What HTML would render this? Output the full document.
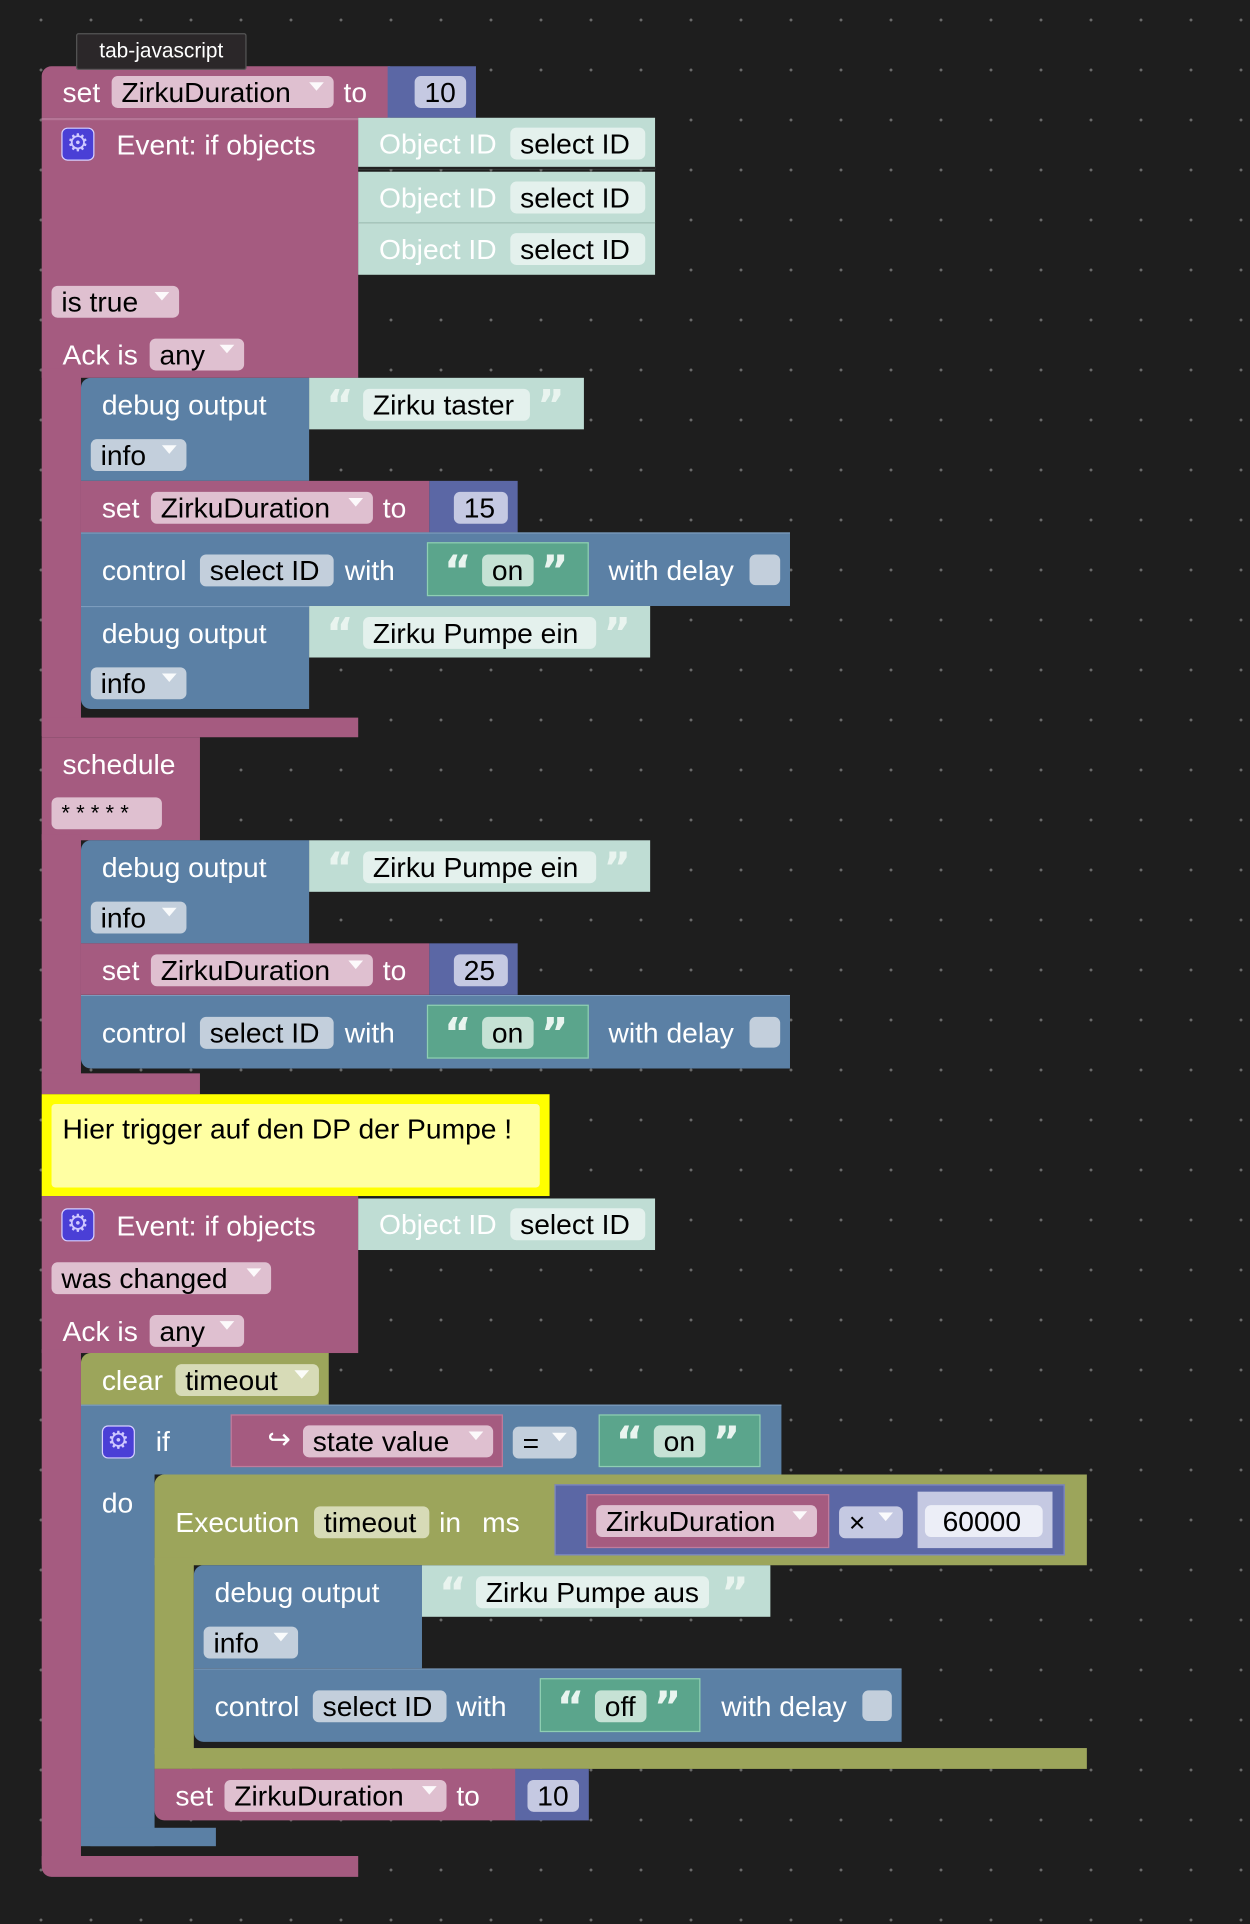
<!DOCTYPE html>
<html><head><meta charset="utf-8"><style>
html,body{margin:0;padding:0;}
body{width:1250px;height:1924px;overflow:hidden;background-color:#1e1e1e;
background-image:radial-gradient(circle,#6a6a6a 1.3px,transparent 1.6px);background-size:50px 50px;background-position:16px -5px;}
#c{position:absolute;left:0;top:0;width:1019px;height:1568px;transform:scale(1.2267);transform-origin:0 0;font-family:"Liberation Sans",sans-serif;font-size:23px;}
#c div{position:absolute;box-sizing:border-box;}
.pk{background:#a55b80;}
.bl{background:#5b80a5;}
.tl{background:#bfddd4;}
.gr{background:#5ba58c;border:1px solid #8fcfb3;}
.nb{background:#5b67a5;}
.ol{background:#9ca55b;}
.t{color:#fff;height:26px;line-height:26px;white-space:nowrap;}
.f{height:26px;line-height:26px;border-radius:5px;padding-left:8px;color:#000;white-space:nowrap;}
.fp{background:#dfc0d0;}
.fb{background:#c3cfdc;}
.ft{background:#e4f1ed;}
.fn{background:#c5c9e2;}
.fg{background:#c6e2d5;}
.fo{background:#d7dbb7;}
.dd:after{content:"";position:absolute;right:8px;top:5px;border-left:6px solid transparent;border-right:6px solid transparent;border-top:7px solid #fff;opacity:.9}
.gear{width:27px;height:27px;border-radius:5px;background:#4a3fd6;border:1px solid #d6d0ff;color:#cfc8ff;font-size:20px;line-height:24px;text-align:center;}
.q{color:#e9f4ef;font-weight:bold;font-size:34px;line-height:34px;font-family:"DejaVu Sans",sans-serif;margin-top:2px;}
</style></head><body><div id="c">

<div style="left:62px;top:27px;width:139px;height:30px;background:#2b2729;border:1px solid #555;border-radius:2px;color:#fff;font-size:17px;line-height:28px;text-align:center;z-index:5">tab-javascript</div>

<div class="pk" style="left:34px;top:54px;width:284px;height:42px;border-radius:8px 0 0 0"></div>
<div class="t" style="left:51px;top:62px">set</div>
<div class="f fp dd" style="left:91px;top:62px;width:181px">ZirkuDuration</div>
<div class="t" style="left:280px;top:62px">to</div>
<div class="nb" style="left:316px;top:54px;width:72px;height:42px"></div>
<div class="f fn" style="left:338px;top:62px;width:42px">10</div>

<div class="pk" style="left:34px;top:96px;width:258px;height:212px;border-top:2px solid #b57596"></div>
<div class="pk" style="left:34px;top:300px;width:32px;height:300px"></div>
<div class="pk" style="left:34px;top:585px;width:258px;height:16px"></div>
<div class="gear" style="left:50px;top:104px">⚙</div>
<div class="t" style="left:95px;top:105px">Event: if objects</div>
<div class="tl" style="left:292px;top:96px;width:242px;height:42px;border-bottom:2px solid #222"></div>
<div class="tl" style="left:292px;top:140px;width:242px;height:42px;border-bottom:1px solid #a6c6bb"></div>
<div class="tl" style="left:292px;top:182px;width:242px;height:42px"></div>
<div class="t" style="left:309px;top:104px">Object ID</div>
<div class="f ft" style="left:416px;top:104px;width:110px">select ID</div>
<div class="t" style="left:309px;top:148px">Object ID</div>
<div class="f ft" style="left:416px;top:148px;width:110px">select ID</div>
<div class="t" style="left:309px;top:190px">Object ID</div>
<div class="f ft" style="left:416px;top:190px;width:110px">select ID</div>
<div class="f fp dd" style="left:42px;top:233px;width:104px">is true</div>
<div class="t" style="left:51px;top:276px">Ack is</div>
<div class="f fp dd" style="left:122px;top:276px;width:77px">any</div>

<div class="bl" style="left:66px;top:308px;width:186px;height:84px;border-radius:8px 0 0 0"></div>
<div class="t" style="left:83px;top:317px">debug output</div>
<div class="tl" style="left:252px;top:308px;width:224px;height:42px"></div>
<div class="q" style="left:266px;top:312px">“</div>
<div class="f ft" style="left:296px;top:317px;width:136px">Zirku taster</div>
<div class="q" style="left:438px;top:312px">”</div>
<div class="f fb dd" style="left:74px;top:358px;width:78px">info</div>
<div class="pk" style="left:66px;top:392px;width:284px;height:42px"></div>
<div class="t" style="left:83px;top:401px">set</div>
<div class="f fp dd" style="left:123px;top:401px;width:181px">ZirkuDuration</div>
<div class="t" style="left:312px;top:401px">to</div>
<div class="nb" style="left:350px;top:392px;width:72px;height:42px"></div>
<div class="f fn" style="left:370px;top:401px;width:44px">15</div>
<div class="bl" style="left:66px;top:434px;width:578px;height:60px;border-top:1px solid #7c9cbd"></div>
<div class="t" style="left:83px;top:452px">control</div>
<div class="f fb" style="left:163px;top:452px;width:109px">select ID</div>
<div class="t" style="left:281px;top:452px">with</div>
<div class="gr" style="left:348px;top:442px;width:132px;height:44px"></div>
<div class="q" style="left:362px;top:447px">“</div>
<div class="f fg" style="left:393px;top:452px;width:42px">on</div>
<div class="q" style="left:441px;top:447px">”</div>
<div class="t" style="left:496px;top:452px">with delay</div>
<div style="left:611px;top:452px;width:25px;height:25px;border-radius:5px;background:#c3cfdc"></div>
<div class="bl" style="left:66px;top:494px;width:186px;height:84px;border-radius:0 0 0 8px;border-top:1px solid #7c9cbd"></div>
<div class="t" style="left:83px;top:503px">debug output</div>
<div class="tl" style="left:252px;top:494px;width:278px;height:42px"></div>
<div class="q" style="left:266px;top:498px">“</div>
<div class="f ft" style="left:296px;top:503px;width:190px">Zirku Pumpe ein</div>
<div class="q" style="left:492px;top:498px">”</div>
<div class="f fb dd" style="left:74px;top:544px;width:78px">info</div>

<div class="pk" style="left:34px;top:601px;width:129px;height:84px"></div>
<div class="pk" style="left:34px;top:680px;width:32px;height:200px"></div>
<div class="pk" style="left:34px;top:875px;width:129px;height:17px"></div>
<div class="t" style="left:51px;top:610px">schedule</div>
<div class="f fp" style="left:42px;top:650px;width:90px;font-size:18px">* * * * *</div>
<div class="bl" style="left:66px;top:685px;width:186px;height:84px;border-radius:8px 0 0 0"></div>
<div class="t" style="left:83px;top:694px">debug output</div>
<div class="tl" style="left:252px;top:685px;width:278px;height:42px"></div>
<div class="q" style="left:266px;top:689px">“</div>
<div class="f ft" style="left:296px;top:694px;width:190px">Zirku Pumpe ein</div>
<div class="q" style="left:492px;top:689px">”</div>
<div class="f fb dd" style="left:74px;top:735px;width:78px">info</div>
<div class="pk" style="left:66px;top:769px;width:284px;height:42px"></div>
<div class="t" style="left:83px;top:778px">set</div>
<div class="f fp dd" style="left:123px;top:778px;width:181px">ZirkuDuration</div>
<div class="t" style="left:312px;top:778px">to</div>
<div class="nb" style="left:350px;top:769px;width:72px;height:42px"></div>
<div class="f fn" style="left:370px;top:778px;width:44px">25</div>
<div class="bl" style="left:66px;top:811px;width:578px;height:60px;border-radius:0 0 0 8px;border-top:1px solid #7c9cbd"></div>
<div class="t" style="left:83px;top:829px">control</div>
<div class="f fb" style="left:163px;top:829px;width:109px">select ID</div>
<div class="t" style="left:281px;top:829px">with</div>
<div class="gr" style="left:348px;top:819px;width:132px;height:44px"></div>
<div class="q" style="left:362px;top:824px">“</div>
<div class="f fg" style="left:393px;top:829px;width:42px">on</div>
<div class="q" style="left:441px;top:824px">”</div>
<div class="t" style="left:496px;top:829px">with delay</div>
<div style="left:611px;top:829px;width:25px;height:25px;border-radius:5px;background:#c3cfdc"></div>

<div style="left:34px;top:892px;width:414px;height:83px;background:#ffff00"></div>
<div style="left:42px;top:900px;width:398px;height:68px;background:#ffffa3;border-radius:3px"></div>
<div style="left:51px;top:907px;color:#000;height:26px;line-height:26px;white-space:nowrap">Hier trigger auf den DP der Pumpe !</div>

<div class="pk" style="left:34px;top:975px;width:258px;height:128px"></div>
<div class="pk" style="left:34px;top:1100px;width:32px;height:420px"></div>
<div class="pk" style="left:34px;top:1513px;width:258px;height:17px;border-radius:0 0 0 8px"></div>
<div class="gear" style="left:50px;top:985px">⚙</div>
<div class="t" style="left:95px;top:986px">Event: if objects</div>
<div class="tl" style="left:292px;top:977px;width:242px;height:42px"></div>
<div class="t" style="left:309px;top:985px">Object ID</div>
<div class="f ft" style="left:416px;top:985px;width:110px">select ID</div>
<div class="f fp dd" style="left:42px;top:1029px;width:179px">was changed</div>
<div class="t" style="left:51px;top:1072px">Ack is</div>
<div class="f fp dd" style="left:122px;top:1072px;width:77px">any</div>

<div class="ol" style="left:66px;top:1103px;width:202px;height:42px;border-radius:8px 0 0 0"></div>
<div class="t" style="left:83px;top:1112px">clear</div>
<div class="f fo dd" style="left:143px;top:1112px;width:117px">timeout</div>

<div class="bl" style="left:66px;top:1145px;width:571px;height:57px;border-top:1px solid #7c9cbd"></div>
<div class="bl" style="left:66px;top:1200px;width:60px;height:305px;border-radius:0 0 0 8px"></div>
<div class="bl" style="left:66px;top:1490px;width:110px;height:15px"></div>
<div class="gear" style="left:83px;top:1162px">⚙</div>
<div class="t" style="left:127px;top:1162px">if</div>
<div class="t" style="left:83px;top:1212px">do</div>
<div class="pk" style="left:188px;top:1153px;width:222px;height:43px;border:1px solid #c07c9c"></div>
<div class="t" style="left:218px;top:1160px">↪</div>
<div class="f fp dd" style="left:247px;top:1162px;width:155px">state value</div>
<div class="f fb dd" style="left:418px;top:1163px;width:52px">=</div>
<div class="gr" style="left:488px;top:1153px;width:132px;height:43px"></div>
<div class="q" style="left:502px;top:1157px">“</div>
<div class="f fg" style="left:533px;top:1162px;width:42px">on</div>
<div class="q" style="left:581px;top:1157px">”</div>

<div class="ol" style="left:126px;top:1202px;width:760px;height:74px;border-radius:8px 0 0 0"></div>
<div class="ol" style="left:126px;top:1270px;width:32px;height:160px"></div>
<div class="ol" style="left:126px;top:1425px;width:760px;height:17px"></div>
<div class="t" style="left:143px;top:1228px">Execution</div>
<div class="f fo" style="left:256px;top:1228px;width:94px">timeout</div>
<div class="t" style="left:358px;top:1228px">in</div>
<div class="t" style="left:393px;top:1228px">ms</div>
<div class="nb" style="left:452px;top:1210px;width:416px;height:58px;border:1px solid #7f8ac2"></div>
<div class="pk" style="left:478px;top:1218px;width:198px;height:44px;border:1px solid #c07c9c"></div>
<div class="f fp dd" style="left:486px;top:1227px;width:180px">ZirkuDuration</div>
<div class="f fn dd" style="left:684px;top:1228px;width:52px">×</div>
<div style="left:748px;top:1216px;width:110px;height:46px;background:#c5c9e2"></div>
<div class="f" style="left:754px;top:1227px;width:96px;background:#eceef7">&nbsp;60000</div>

<div class="bl" style="left:158px;top:1276px;width:186px;height:84px;border-radius:8px 0 0 0"></div>
<div class="t" style="left:175px;top:1285px">debug output</div>
<div class="tl" style="left:344px;top:1276px;width:284px;height:42px"></div>
<div class="q" style="left:358px;top:1280px">“</div>
<div class="f ft" style="left:388px;top:1285px;width:190px">Zirku Pumpe aus</div>
<div class="q" style="left:588px;top:1280px">”</div>
<div class="f fb dd" style="left:166px;top:1326px;width:77px">info</div>
<div class="bl" style="left:158px;top:1360px;width:577px;height:60px;border-radius:0 0 0 8px;border-top:1px solid #7c9cbd"></div>
<div class="t" style="left:175px;top:1378px">control</div>
<div class="f fb" style="left:255px;top:1378px;width:109px">select ID</div>
<div class="t" style="left:372px;top:1378px">with</div>
<div class="gr" style="left:440px;top:1368px;width:131px;height:44px"></div>
<div class="q" style="left:454px;top:1373px">“</div>
<div class="f fg" style="left:485px;top:1378px;width:42px">off</div>
<div class="q" style="left:533px;top:1373px">”</div>
<div class="t" style="left:588px;top:1378px">with delay</div>
<div style="left:703px;top:1378px;width:24px;height:25px;border-radius:5px;background:#c3cfdc"></div>

<div class="pk" style="left:126px;top:1442px;width:296px;height:42px;border-radius:0 0 0 8px"></div>
<div class="t" style="left:143px;top:1451px">set</div>
<div class="f fp dd" style="left:183px;top:1451px;width:181px">ZirkuDuration</div>
<div class="t" style="left:372px;top:1451px">to</div>
<div class="nb" style="left:420px;top:1442px;width:60px;height:42px"></div>
<div class="f fn" style="left:430px;top:1451px;width:42px">10</div>

</div></body></html>
